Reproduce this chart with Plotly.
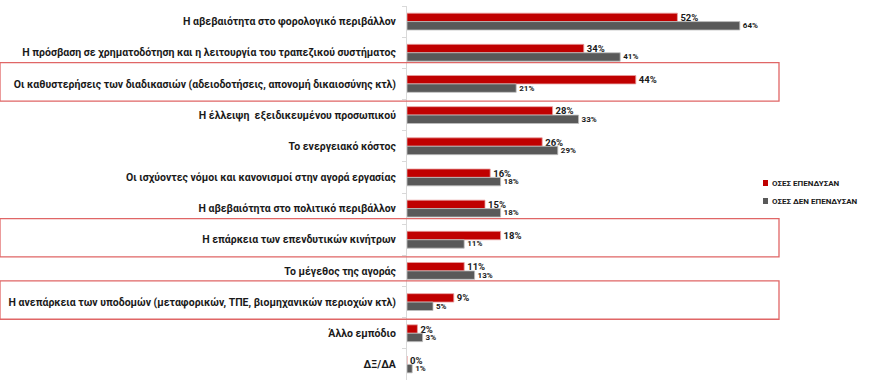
import plotly.graph_objects as go

categories = [
    "Η αβεβαιότητα στο φορολογικό περιβάλλον",
    "Η πρόσβαση σε χρηματοδότηση και η λειτουργία του τραπεζικού συστήματος",
    "Οι καθυστερήσεις των διαδικασιών (αδειοδοτήσεις, απονομή δικαιοσύνης κτλ)",
    "Η έλλειψη  εξειδικευμένου προσωπικού",
    "Το ενεργειακό κόστος",
    "Οι ισχύοντες νόμοι και κανονισμοί στην αγορά εργασίας",
    "Η αβεβαιότητα στο πολιτικό περιβάλλον",
    "Η επάρκεια των επενδυτικών κινήτρων",
    "Το μέγεθος της αγοράς",
    "Η ανεπάρκεια των υποδομών (μεταφορικών, ΤΠΕ, βιομηχανικών περιοχών κτλ)",
    "Άλλο εμπόδιο",
    "ΔΞ/ΔΑ",
]
invested = [52, 34, 44, 28, 26, 16, 15, 18, 11, 9, 2, 0]
not_invested = [64, 41, 21, 33, 29, 18, 18, 11, 13, 5, 3, 1]
series_names = ["ΟΣΕΣ ΕΠΕΝΔΥΣΑΝ", "ΟΣΕΣ ΔΕΝ ΕΠΕΝΔΥΣΑΝ"]
series_colors = ["#C00000", "#595959"]
highlighted = [2, 7, 9]

FONT = "Roboto"
W, H = 881, 387
L, R, T, B = 407, 6, 6, 7
plot_w = W - L - R
plot_h = H - T - B

fig = go.Figure()
fig.add_trace(go.Bar(
    y=categories, x=invested, orientation="h", name=series_names[0],
    marker=dict(color=series_colors[0], line=dict(color="#e8a0a0", width=0.8)),
    text=[f"{v}%" for v in invested], textposition="outside", constraintext="none",
    textfont=dict(family=FONT, size=9.5, color="#1a1a1a", weight="bold"),
    cliponaxis=False,
))
fig.add_trace(go.Bar(
    y=categories, x=not_invested, orientation="h", name=series_names[1],
    marker=dict(color=series_colors[1], line=dict(color="#bfbfbf", width=0.8)),
    text=[f"{v}%" for v in not_invested], textposition="outside", constraintext="none",
    textfont=dict(family=FONT, size=8, color="#1a1a1a", weight="bold"),
    cliponaxis=False,
))

for i in highlighted:
    fig.add_shape(type="rect", xref="paper", yref="y",
                  x0=-L / plot_w, x1=(779 - L) / plot_w,
                  y0=i - 0.68, y1=i + 0.55,
                  line=dict(color="#e06666", width=1.3), fillcolor="rgba(0,0,0,0)")

# legend drawn as small squares + text
leg_x = (763 - L) / plot_w
for k, (name, col) in enumerate(zip(series_names, series_colors)):
    yc = 1 - (183 + 18 * k - T) / plot_h
    fig.add_shape(type="rect", xref="paper", yref="paper",
                  x0=leg_x, x1=leg_x + 5 / plot_w,
                  y0=yc - 3 / plot_h, y1=yc + 3 / plot_h,
                  line=dict(width=0), fillcolor=col)
    fig.add_annotation(xref="paper", yref="paper", x=leg_x + 7 / plot_w, y=yc,
                       text=name, showarrow=False, xanchor="left", yanchor="middle",
                       font=dict(family=FONT, size=8, color="#1a1a1a", weight="bold"))

fig.update_layout(
    width=W, height=H,
    margin=dict(l=L, r=R, t=T, b=B),
    paper_bgcolor="white", plot_bgcolor="white",
    barmode="group", bargap=0.46, bargroupgap=0,
    showlegend=False,
    xaxis=dict(range=[0, 90], visible=False),
    yaxis=dict(autorange="reversed", showline=True, linecolor="#d9d9d9", linewidth=1,
               ticks="outside", tickson="boundaries", ticklen=4, tickcolor="#d9d9d9",
               automargin=False,
               tickfont=dict(family=FONT, size=10.5, color="#1a1a1a", weight="bold"),
               ticklabelstandoff=8),
    font=dict(family=FONT),
)

fig.write_html("out.html")
